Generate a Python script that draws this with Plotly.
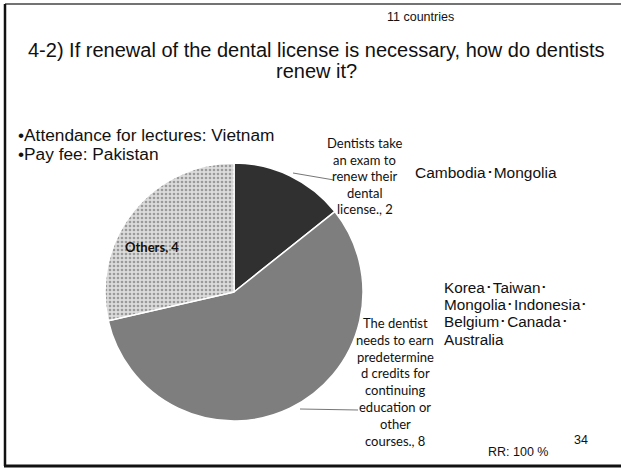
import plotly.graph_objects as go

W, H = 621, 468

categories = [
    "Dentists take an exam to renew their dental license.",
    "The dentist needs to earn predetermined credits for continuing education or other courses.",
    "Others",
]
values = [2, 8, 4]
slice_colors = ["#303030", "#7e7e7e", "#d6d6d6"]
label_lines = [
    ["Dentists take", "an exam to", "renew their", "dental", "license., 2"],
    ["The dentist", "needs to earn", "predetermine", "d credits for", "continuing", "education or", "other", "courses., 8"],
    ["Others, 4"],
]

def px(x):
    return x / W

def py(y):
    return 1 - y / H

cx, cy, r = 234, 292, 129

fig = go.Figure(go.Pie(
    labels=categories,
    values=values,
    sort=False,
    direction="clockwise",
    rotation=0,
    textinfo="none",
    hoverinfo="label+value",
    marker=dict(
        colors=slice_colors,
        line=dict(color="white", width=1.5),
        pattern=dict(shape=["", "", "."], fgcolor="#9a9a9a", bgcolor="#dcdcdc", size=4, solidity=0.35),
    ),
    domain=dict(x=[px(cx - r), px(cx + r)], y=[py(cy + r), py(cy - r)]),
    showlegend=False,
))

ann = []
def text(x, y, s, size, family="Liberation Sans, Arial", color="#111", anchor="left", bold=False):
    ann.append(dict(x=px(x), y=py(y), xref="paper", yref="paper", text=(f"<b>{s}</b>" if bold else s),
                    showarrow=False, xanchor=anchor, yanchor="middle",
                    font=dict(size=size, family=family, color=color)))

text(420, 17, "11 countries", 12.5, anchor="center")
text(316, 50, "4-2) If renewal of the dental license is necessary, how do dentists", 20, anchor="center")
text(316, 71, "renew it?", 20, anchor="center")
text(16, 135, "•Attendance for lectures: Vietnam", 17.3)
text(16, 154, "•Pay fee: Pakistan", 17.3)
text(413, 172, "Cambodia･Mongolia", 15.5)
for i, s in enumerate(["Korea･Taiwan･", "Mongolia･Indonesia･", "Belgium･Canada･", "Australia"]):
    text(442, 287 + i * 17.4, s, 15.3)
text(518, 452, "RR: 100 %", 12.5, anchor="center")
text(581, 440, "34", 12.5, anchor="center")

# slice labels
LF = "Lato, Open Sans, sans-serif"
for i, s in enumerate(label_lines[0]):
    text(365, 143 + i * 16.6, s, 13, family=LF, anchor="center")
for i, s in enumerate(label_lines[1]):
    text(395, 323 + i * 16.8, s, 13, family=LF, anchor="center")
text(152, 247, label_lines[2][0], 13, family=LF, anchor="center", bold=True)

shapes = [
    # leader lines
    dict(type="line", xref="paper", yref="paper", x0=px(293), y0=py(173), x1=px(334), y1=py(180),
         line=dict(color="#777", width=1)),
    dict(type="line", xref="paper", yref="paper", x0=px(300), y0=py(409), x1=px(358), y1=py(410),
         line=dict(color="#777", width=1)),
    # slide frame
    dict(type="line", xref="paper", yref="paper", x0=px(5), y0=py(4), x1=1, y1=py(4),
         line=dict(color="#444", width=1.5)),
    dict(type="line", xref="paper", yref="paper", x0=px(5), y0=py(4), x1=px(5), y1=py(466),
         line=dict(color="#111", width=2.5)),
    dict(type="line", xref="paper", yref="paper", x0=px(4), y0=py(466), x1=1, y1=py(466),
         line=dict(color="#111", width=3)),
]

fig.update_layout(
    width=W, height=H,
    margin=dict(l=0, r=0, t=0, b=0),
    paper_bgcolor="white", plot_bgcolor="white",
    annotations=ann, shapes=shapes,
)

fig.write_html("out.html", config={"displayModeBar": False},
               post_script="document.body.style.margin='0px';document.body.style.overflow='hidden';")
